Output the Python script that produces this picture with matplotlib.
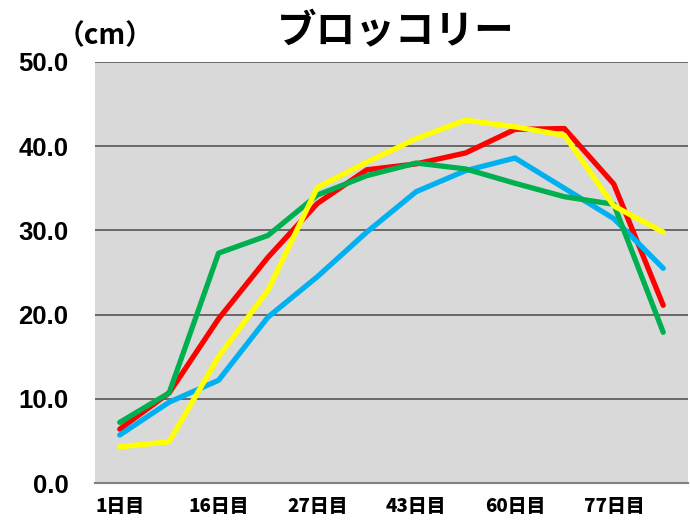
import matplotlib
matplotlib.use("Agg")
import matplotlib.pyplot as plt

plt.rcParams['font.family'] = ['Liberation Sans', 'Noto Sans CJK JP', 'DejaVu Sans']

# 12 mesures, étiquette affichée une sur deux
etiquettes = ["1日目", "", "16日目", "", "27日目", "", "43日目", "", "60日目", "", "77日目", ""]

rouge = [6.4, 10.7, 19.5, 26.8, 33.2, 37.2, 37.9, 39.2, 42.0, 42.1, 35.5, 21.1]
bleu = [5.7, 9.6, 12.2, 19.7, 24.5, 29.8, 34.6, 37.1, 38.6, 35.0, 31.4, 25.5]
vert = [7.2, 10.7, 27.3, 29.4, 34.2, 36.5, 38.0, 37.3, 35.6, 34.0, 33.1, 17.9]
jaune = [4.3, 4.9, 15.0, 22.9, 35.1, 38.1, 40.9, 43.1, 42.3, 41.3, 32.9, 29.8]

fig = plt.figure(figsize=(6.9, 5.21), dpi=100)
ax = fig.add_axes([0.1377, 0.0729, 0.8593, 0.8081])
ax.set_facecolor("#d9d9d9")

x = list(range(len(etiquettes)))
ax.plot(x, rouge, color="#ff0000", lw=3.8, solid_capstyle="round", zorder=3)
ax.plot(x, bleu, color="#00b0f0", lw=3.8, solid_capstyle="round", zorder=3)
ax.plot(x, vert, color="#00b050", lw=3.8, solid_capstyle="round", zorder=3)
ax.plot(x, jaune, color="#ffff00", lw=3.8, solid_capstyle="round", zorder=3)

ax.set_xlim(-0.5, len(etiquettes) - 0.5)
ax.set_ylim(0, 50)
ax.set_yticks([0, 10, 20, 30, 40, 50])
ax.set_yticklabels(["0.0", "10.0", "20.0", "30.0", "40.0", "50.0"],
                   fontsize=18.5, fontweight="bold")
ax.set_xticks(x)
ax.set_xticklabels(etiquettes, fontsize=13.5, fontweight="heavy",
                   family=["Noto Sans CJK JP"])
ax.tick_params(axis="y", length=0, pad=19)
ax.tick_params(axis="x", length=0, pad=10)

ax.grid(axis="y", color="#555555", lw=1.2)
ax.set_axisbelow(True)
for s in ["left", "right", "top"]:
    ax.spines[s].set_visible(False)
ax.spines["bottom"].set_color("#808080")
ax.spines["bottom"].set_linewidth(1.5)

fig.text(0.574, 0.938, "ブロッコリー", fontsize=28.5, fontweight="bold",
         ha="center", va="center", family=["Noto Sans CJK JP"])
fig.text(0.152, 0.931, "（cm）", fontsize=20, fontweight="bold",
         ha="center", va="center", family=["Noto Sans CJK JP"])

fig.savefig("out.png", dpi=100)
